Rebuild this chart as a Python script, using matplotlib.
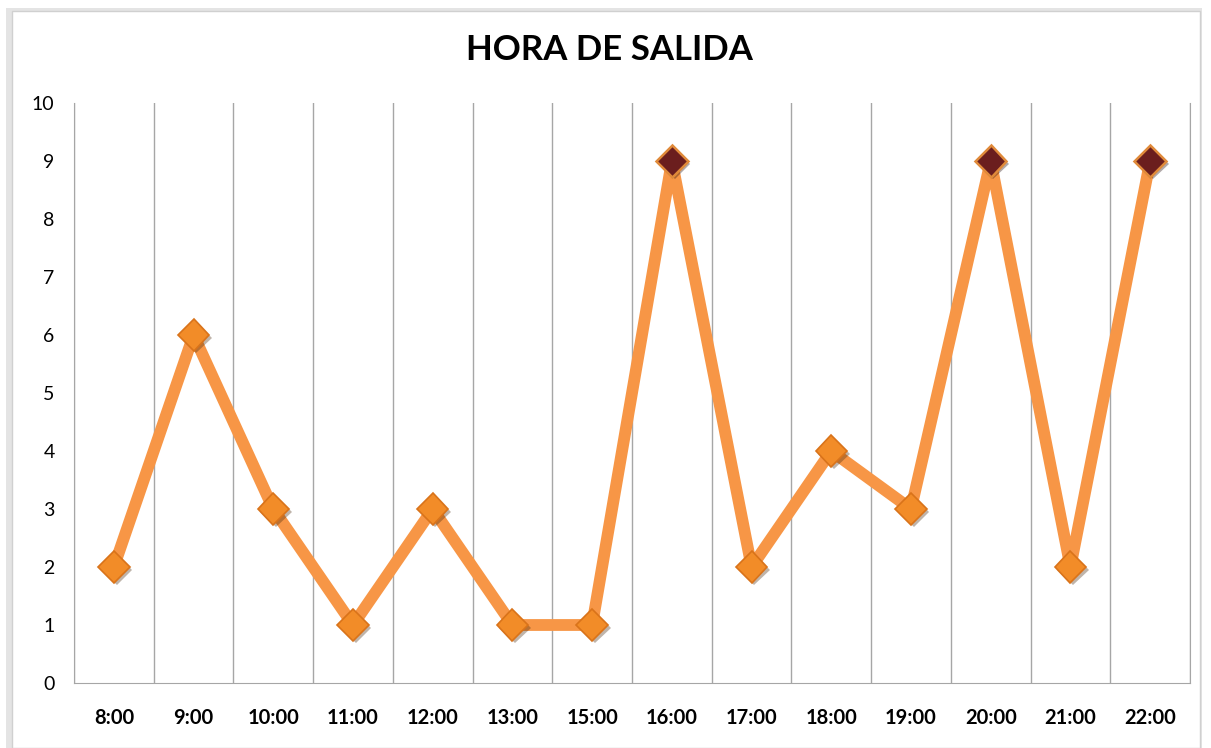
import matplotlib.pyplot as plt
import matplotlib.patheffects as pe
from matplotlib.patches import Rectangle
import numpy as np

plt.rcParams['font.family'] = ['Lato', 'DejaVu Sans']

HOURS = ["8:00", "9:00", "10:00", "11:00", "12:00", "13:00", "15:00",
         "16:00", "17:00", "18:00", "19:00", "20:00", "21:00", "22:00"]
COUNTS = [2, 6, 3, 1, 3, 1, 1, 9, 2, 4, 3, 9, 2, 9]
PEAK = 9  # highlighted markers (dark red)

LINE = "#F79646"
GRID = "#A6A6A6"

fig = plt.figure(figsize=(12.11, 7.48), dpi=100)
# chart frame with a soft shadow
fig.patches.append(Rectangle((6 / 1211, 0), 1196 / 1211, 740 / 748, transform=fig.transFigure,
                             facecolor="#E4E4E4", edgecolor="none", zorder=-3))
fig.patches.append(Rectangle((12 / 1211, 0), 1188 / 1211, 737 / 748, transform=fig.transFigure,
                             facecolor="white", edgecolor="#D0D0D0", lw=1, zorder=-2))

ax = fig.add_axes([74 / 1211, 65 / 748, 1116 / 1211, 580 / 748])
ax.set_facecolor("none")
x = np.arange(len(HOURS))
y = np.array(COUNTS)

ax.plot(x, y, color=LINE, lw=8.5, solid_joinstyle="round", zorder=3)
shadow = [pe.SimplePatchShadow(offset=(2, -2), alpha=0.35), pe.Normal()]
normal = y != PEAK
ax.plot(x[normal], y[normal], ls="none", marker="D", ms=16, mfc="#F28C28",
        mec="#D9731A", mew=1.2, zorder=4, path_effects=shadow)
ax.plot(x[~normal], y[~normal], ls="none", marker="D", ms=16, mfc="#6B1E1E",
        mec="#E08A3A", mew=1.8, zorder=4, path_effects=shadow)

ax.set_xlim(-0.5, len(HOURS) - 0.5)
ax.set_ylim(0, 10)
ax.set_yticks(range(0, 11))
ax.set_xticks(x)
ax.set_xticklabels(HOURS, fontsize=14.5, fontweight="bold")
ax.set_xticks(np.arange(-0.5, len(HOURS), 1), minor=True)
ax.tick_params(axis="y", labelsize=14, length=0, pad=14)
ax.tick_params(axis="x", which="both", length=0, pad=18)
ax.grid(which="minor", axis="x", color=GRID, lw=1)
for side in ("left", "bottom", "right"):
    ax.spines[side].set_color(GRID)
ax.spines["top"].set_visible(False)

fig.text(0.503, 0.933, "HORA DE SALIDA", ha="center", va="center",
         fontsize=25, fontweight="bold")

fig.savefig("out.png", dpi=100)
